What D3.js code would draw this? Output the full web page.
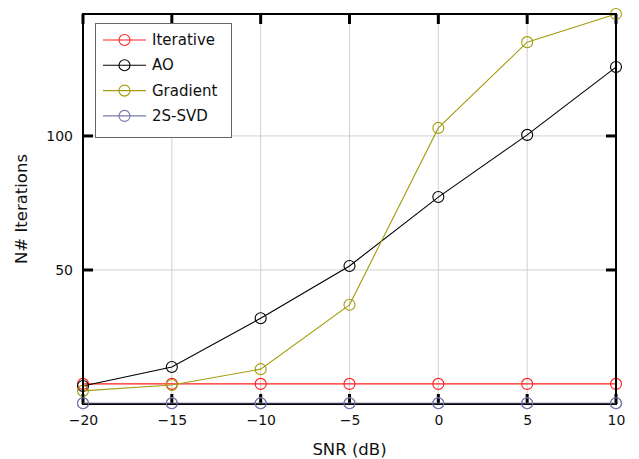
<!DOCTYPE html>
<html><head><meta charset="utf-8">
<script src="https://cdn.jsdelivr.net/npm/d3@7"></script>
<style>body{margin:0;background:#fff}</style>
</head><body>
<svg id="c" width="639" height="459"></svg>
<script>
const snr = [-20, -15, -10, -5, 0, 5, 10];
const iterative = [7.5, 7.5, 7.5, 7.5, 7.5, 7.5, 7.5];
const ao = [6.7, 13.8, 32, 51.5, 77.2, 100.4, 125.7];
const gradient = [4.9, 7.1, 13, 37, 103, 135, 145.5];
const svd2s = [0.3, 0.3, 0.3, 0.3, 0.3, 0.3, 0.3];
const xTicks = [-20, -15, -10, -5, 0, 5, 10];
const yTicks = [50, 100];
const seriesNames = ["Iterative", "AO", "Gradient", "2S-SVD"];
const seriesColors = ["#ff2020", "#000000", "#a39c10", "#7878a8"];
const seriesData = [iterative, ao, gradient, svd2s];

const font = "DejaVu Sans, sans-serif";
const svg = d3.select("#c");
const L = 83, R = 616, T = 14, B = 404;
const x = d3.scaleLinear().domain([-20, 10]).range([L, R]);
const y = d3.scaleLinear().domain([0, 145.5]).range([B, T]);

// grid
svg.append("g").selectAll("line").data(xTicks).join("line")
  .attr("x1", d => x(d)).attr("x2", d => x(d)).attr("y1", T).attr("y2", B)
  .attr("stroke", "#d0d0d0").attr("stroke-width", 1);
svg.append("g").selectAll("line").data(yTicks).join("line")
  .attr("y1", d => y(d)).attr("y2", d => y(d)).attr("x1", L).attr("x2", R)
  .attr("stroke", "#d0d0d0").attr("stroke-width", 1);

// inward tick marks on all four sides
const tk = svg.append("g").attr("stroke", "#000").attr("stroke-width", 3);
tk.selectAll(".tb").data(xTicks).join("line").attr("class", "tb")
  .attr("x1", d => x(d)).attr("x2", d => x(d)).attr("y1", B).attr("y2", B - 10);
tk.selectAll(".tt").data(xTicks).join("line").attr("class", "tt")
  .attr("x1", d => x(d)).attr("x2", d => x(d)).attr("y1", T).attr("y2", T + 10);
tk.selectAll(".tl").data(yTicks).join("line").attr("class", "tl")
  .attr("y1", d => y(d)).attr("y2", d => y(d)).attr("x1", L).attr("x2", L + 10);
tk.selectAll(".tr").data(yTicks).join("line").attr("class", "tr")
  .attr("y1", d => y(d)).attr("y2", d => y(d)).attr("x1", R).attr("x2", R - 10);

// series
const line = d3.line().x((d, i) => x(snr[i])).y(d => y(d));
seriesData.forEach((data, k) => {
  const g = svg.append("g");
  g.append("path").datum(data).attr("d", line).attr("fill", "none")
    .attr("stroke", seriesColors[k]).attr("stroke-width", 1.1);
  g.selectAll("circle").data(data).join("circle")
    .attr("cx", (d, i) => x(snr[i])).attr("cy", d => y(d)).attr("r", 5.5)
    .attr("fill", "none").attr("stroke", seriesColors[k]).attr("stroke-width", 1.1);
});

// axes labels via d3 axis
const fmt = d => d < 0 ? "\u2212" + Math.abs(d) : String(d);
const gx = svg.append("g").attr("transform", `translate(0,${B})`)
  .call(d3.axisBottom(x).tickValues(xTicks).tickSizeInner(0).tickSizeOuter(0).tickPadding(11).tickFormat(fmt));
const gy = svg.append("g").attr("transform", `translate(${L},0)`)
  .call(d3.axisLeft(y).tickValues(yTicks).tickSizeInner(0).tickSizeOuter(0).tickPadding(10));
[gx, gy].forEach(g => {
  g.select(".domain").remove();
  g.selectAll(".tick line").remove();
  g.selectAll("text").attr("font-family", font).attr("font-size", 14).attr("fill", "#111");
});

// frame
svg.append("rect").attr("x", L).attr("y", T).attr("width", R - L).attr("height", B - T)
  .attr("fill", "none").attr("stroke", "#000").attr("stroke-width", 2);
// 2S-SVD drawn over the frame bottom
svg.append("path").datum(svd2s).attr("d", line).attr("fill", "none")
  .attr("stroke", seriesColors[3]).attr("stroke-width", 1.1).attr("opacity", 0.6);
svg.append("g").selectAll("circle").data(svd2s).join("circle")
  .attr("cx", (d, i) => x(snr[i])).attr("cy", d => y(d)).attr("r", 5.5)
  .attr("fill", "none").attr("stroke", seriesColors[3]).attr("stroke-width", 1.1);

// legend
const lg = svg.append("g");
lg.append("rect").attr("x", 95.5).attr("y", 23.5).attr("width", 136).attr("height", 114)
  .attr("fill", "#fff").attr("stroke", "#666").attr("stroke-width", 1);
seriesNames.forEach((n, k) => {
  const yy = 40 + k * 25.3;
  lg.append("line").attr("x1", 103).attr("x2", 146).attr("y1", yy).attr("y2", yy)
    .attr("stroke", seriesColors[k]).attr("stroke-width", 1.1);
  lg.append("circle").attr("cx", 124.5).attr("cy", yy).attr("r", 5.5)
    .attr("fill", "none").attr("stroke", seriesColors[k]).attr("stroke-width", 1.1);
  lg.append("text").attr("x", 152).attr("y", yy + 5).text(n)
    .attr("font-family", font).attr("font-size", 15).attr("fill", "#111");
});

// axis titles
svg.append("text").attr("x", 349.5).attr("y", 455).attr("text-anchor", "middle")
  .attr("font-family", font).attr("font-size", 16.5).attr("fill", "#111").text("SNR (dB)");
svg.append("text").attr("transform", `translate(27,${(T + B) / 2}) rotate(-90)`)
  .attr("text-anchor", "middle")
  .attr("font-family", font).attr("font-size", 16.5).attr("fill", "#111").text("N# Iterations");
</script>
</body></html>
